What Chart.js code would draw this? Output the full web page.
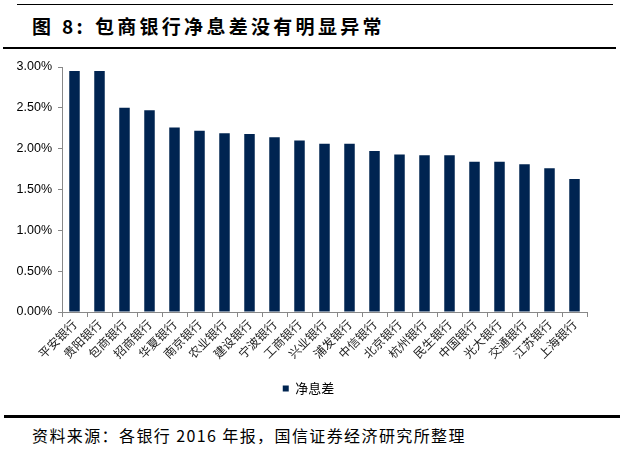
<!DOCTYPE html>
<html>
<head>
<meta charset="utf-8">
<script src="https://cdn.jsdelivr.net/npm/chart.js@4"></script>
<style>
  html, body { margin: 0; padding: 0; background: #fff; }
  body { width: 620px; height: 449px; position: relative; overflow: hidden; font-family: "Noto Sans CJK SC", sans-serif; }
  #rule1 { position: absolute; left: 17px; top: 4px; width: 596px; height: 1px; background: #000; }
  #title { position: absolute; left: 32px; top: 12px; font-size: 19px; font-weight: bold; color: #000; white-space: nowrap; letter-spacing: 3.3px; }
  #title .t2 { margin-left: 9px; }
  #rule2 { position: absolute; left: 3px; top: 47px; width: 613px; height: 2px; background: #000; }
  #rule3 { position: absolute; left: 4px; top: 415px; width: 616px; height: 3px; background: #000; }
  #foot { position: absolute; left: 32px; top: 423px; font-size: 16px; color: #000; white-space: nowrap; letter-spacing: 1.4px; }
  #wrap { position: absolute; left: 0; top: 0; width: 620px; height: 410px; }
</style>
</head>
<body>
<div id="rule1"></div>
<div id="title"><span>图 8:</span><span class="t2">包商银行净息差没有明显异常</span></div>
<div id="rule2"></div>
<div id="wrap"><canvas id="c"></canvas></div>
<div id="rule3"></div>
<div id="foot">资料来源：各银行 2016 年报，国信证券经济研究所整理</div>
<script>
const categories = ["平安银行","贵阳银行","包商银行","招商银行","华夏银行","南京银行","农业银行","建设银行","宁波银行","工商银行","兴业银行","浦发银行","中信银行","北京银行","杭州银行","民生银行","中国银行","光大银行","交通银行","江苏银行","上海银行"];
const seriesName = "净息差";
const netInterestMargin = [2.95,2.95,2.50,2.47,2.26,2.22,2.19,2.18,2.14,2.10,2.06,2.06,1.97,1.93,1.92,1.92,1.84,1.84,1.81,1.76,1.63];
const yTicks = [0,0.5,1.0,1.5,2.0,2.5,3.0];

const shiftLegend = {
  id: 'shiftLegend',
  afterLayout(chart) {
    if (chart.legend) { chart.legend.left += 15; chart.legend.right += 15; }
  }
};

new Chart(document.getElementById('c'), {
  type: 'bar',
  data: {
    labels: categories,
    datasets: [{
      label: seriesName,
      data: netInterestMargin,
      backgroundColor: '#002451',
      borderWidth: 0,
      barPercentage: 0.42,
      categoryPercentage: 1.0
    }]
  },
  plugins: [shiftLegend],
  options: {
    responsive: true,
    maintainAspectRatio: false,
    animation: false,
    layout: { padding: { top: 67, left: 0, right: 33, bottom: 5 } },
    plugins: {
      legend: {
        position: 'bottom',
        labels: {
          boxWidth: 6, boxHeight: 6, padding: 10,
          color: '#000',
          font: { family: '"Noto Sans CJK SC", sans-serif', size: 13 }
        }
      },
      tooltip: { enabled: false }
    },
    scales: {
      x: {
        grid: { drawOnChartArea: false, color: '#888', tickLength: 5, offset: true },
        border: { color: '#888' },
        ticks: {
          minRotation: 45, maxRotation: 45, autoSkip: false,
          color: '#222', padding: 0,
          font: { family: '"Noto Sans CJK SC", sans-serif', size: 12 }
        },
        afterFit: s => { s.height = 60; }
      },
      y: {
        min: 0, max: 3,
        grid: { drawOnChartArea: false, color: '#888', tickLength: 4 },
        border: { color: '#888' },
        afterBuildTicks: s => { s.ticks = yTicks.map(v => ({ value: v })); },
        ticks: {
          color: '#000', padding: 6,
          font: { family: '"Liberation Sans", Arial, sans-serif', size: 12.5 },
          callback: v => v.toFixed(2) + '%'
        },
        afterFit: s => { s.width = 62; }
      }
    }
  }
});
</script>
</body>
</html>
